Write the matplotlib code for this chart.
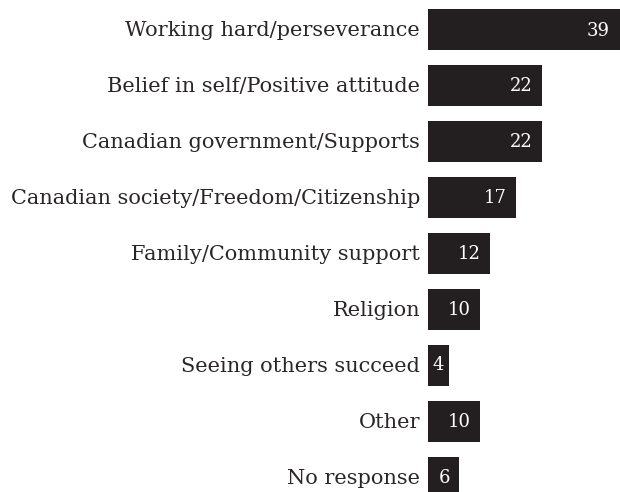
import matplotlib.pyplot as plt
from matplotlib.transforms import offset_copy

labels = [
    "Working hard/perseverance",
    "Belief in self/Positive attitude",
    "Canadian government/Supports",
    "Canadian society/Freedom/Citizenship",
    "Family/Community support",
    "Religion",
    "Seeing others succeed",
    "Other",
    "No response",
]
values = [39, 22, 22, 17, 12, 10, 4, 10, 6]

dark = "#231f20"
xmax = 37.2

fig = plt.figure(figsize=(6.2, 4.92), dpi=100)
ax = fig.add_axes([428 / 620, 0, 192 / 620, 1])

y = list(range(len(values)))
ax.barh(y, values, height=0.73, color=dark)

ax.set_xlim(0, xmax)
ax.set_ylim(8.26, -0.527)
ax.axis("off")

lab_tr = offset_copy(ax.transData, fig=fig, x=-8, y=-1, units="dots")
num_tr = offset_copy(ax.transData, fig=fig, x=-9, y=-1, units="dots")
for i, (lab, v) in enumerate(zip(labels, values)):
    ax.text(0, i, lab, transform=lab_tr, ha="right", va="center",
            fontsize=15, family="DejaVu Serif", color="#2a2627", clip_on=False)
    if v < 5:
        # too narrow for a right-aligned number, centre it
        ax.text(v / 2, i, str(v), transform=ax.transData, ha="center",
                va="center", fontsize=13, family="DejaVu Serif", color="white")
    else:
        # the longest bar runs past the edge, keep its number in view
        ax.text(min(v, xmax - 0.2), i, str(v), transform=num_tr, ha="right",
                va="center", fontsize=13, family="DejaVu Serif", color="white")

fig.savefig("out.png", dpi=100)
